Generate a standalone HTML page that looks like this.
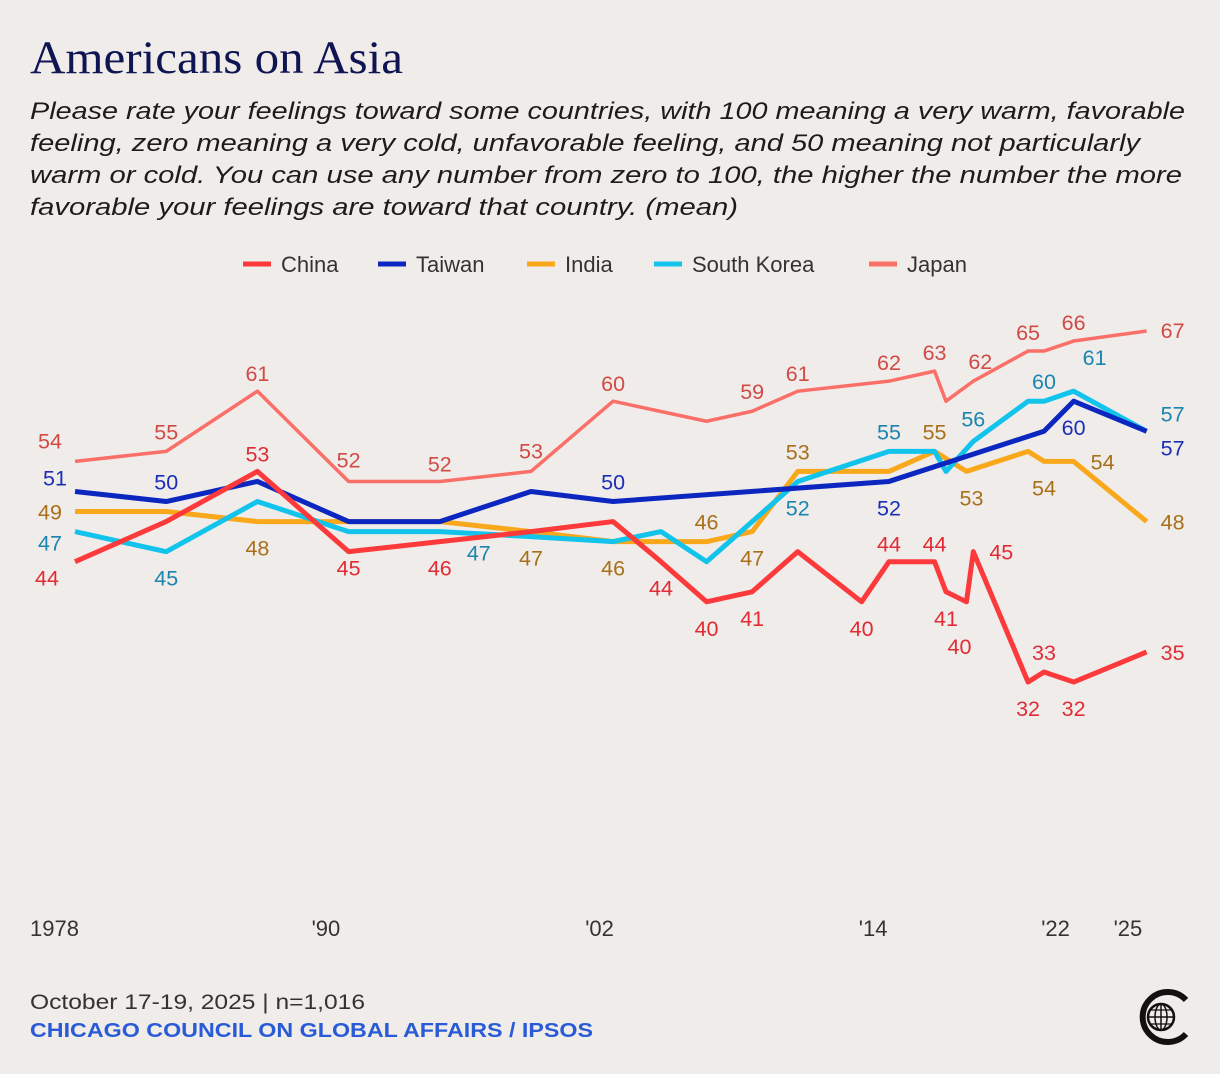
<!DOCTYPE html>
<html><head><meta charset="utf-8">
<style>
body{margin:0;background:#f0ecea;}
svg{display:block;font-family:"Liberation Sans",sans-serif;}
</style></head>
<body>
<svg id="chart" width="1220" height="1074" viewBox="0 0 1220 1074">
<rect width="1220" height="1074" fill="#f0ecea"/>
<text x="30" y="73" font-family="Liberation Serif,serif" font-size="47" fill="#0f1452" textLength="373" lengthAdjust="spacingAndGlyphs">Americans on Asia</text>
<g font-style="italic" font-size="24" fill="#1c1c1c">
<text x="30" y="119" textLength="1155" lengthAdjust="spacingAndGlyphs">Please rate your feelings toward some countries, with 100 meaning a very warm, favorable</text>
<text x="30" y="151" textLength="1110" lengthAdjust="spacingAndGlyphs">feeling, zero meaning a very cold, unfavorable feeling, and 50 meaning not particularly</text>
<text x="30" y="183" textLength="1152" lengthAdjust="spacingAndGlyphs">warm or cold.  You can use any number from zero to 100, the higher the number the more</text>
<text x="30" y="215" textLength="708" lengthAdjust="spacingAndGlyphs">favorable your feelings are toward that country. (mean)</text>
</g>
<g id="legend" font-size="22" fill="#333"></g>
<g id="axis" font-size="22" fill="#333"></g>
<g id="lines"></g>
<g id="labels" font-size="21.5" text-anchor="middle"></g>
<text x="30" y="1009" font-size="21" fill="#333" textLength="335" lengthAdjust="spacingAndGlyphs">October 17-19, 2025 | n=1,016</text>
<text x="30" y="1037" font-size="20" font-weight="bold" fill="#2a5bd7" textLength="563" lengthAdjust="spacingAndGlyphs">CHICAGO COUNCIL ON GLOBAL AFFAIRS / IPSOS</text>
<g>
<path d="M1186,1000 A25,25 0 1 0 1186,1034" fill="none" stroke="#111" stroke-width="6"/>
<circle cx="1161" cy="1017" r="13" fill="none" stroke="#111" stroke-width="2.5"/>
<ellipse cx="1161" cy="1017" rx="6" ry="13" fill="none" stroke="#111" stroke-width="1.5"/>
<line x1="1148" y1="1017" x2="1174" y2="1017" stroke="#111" stroke-width="1.5"/>
<line x1="1161" y1="1004" x2="1161" y2="1030" stroke="#111" stroke-width="1.5"/>
<line x1="1150" y1="1010" x2="1172" y2="1010" stroke="#111" stroke-width="1.2"/>
<line x1="1150" y1="1024" x2="1172" y2="1024" stroke="#111" stroke-width="1.2"/>
</g>
</svg>
<script>
const NS="http://www.w3.org/2000/svg";
const seriesNames=["China","Taiwan","India","South Korea","Japan"];
const chinaYears=[1978,1982,1986,1990,1994,1998,2001.6,2003.7,2005.7,2007.7,2009.7,2012.5,2013.7,2015.7,2016.2,2017.1,2017.4,2019.8,2020.5,2021.8,2025];
const chinaValues=[44,48,53,45,46,47,48,44,40,41,45,40,44,44,41,40,45,32,33,32,35];
const taiwanYears=[1978,1982,1986,1990,1994,1998,2001.6,2013.7,2020.5,2021.8,2025];
const taiwanValues=[51,50,52,48,48,51,50,52,57,60,57];
const indiaYears=[1978,1982,1986,1990,1994,1998,2001.6,2003.7,2005.7,2007.7,2009.7,2013.7,2015.7,2017.1,2019.8,2020.5,2021.8,2025];
const indiaValues=[49,49,48,48,48,47,46,46,46,47,53,53,55,53,55,54,54,48];
const koreaYears=[1978,1982,1986,1990,1994,1998,2001.6,2003.7,2005.7,2009.7,2013.7,2015.7,2016.2,2017.4,2019.8,2020.5,2021.8,2025];
const koreaValues=[47,45,50,47,47,46.5,46,47,44,52,55,55,53,56,60,60,61,57];
const japanYears=[1978,1982,1986,1990,1994,1998,2001.6,2005.7,2007.7,2009.7,2013.7,2015.7,2016.2,2017.4,2019.8,2020.5,2021.8,2025];
const japanValues=[54,55,61,52,52,53,60,58,59,61,62,63,60,62,65,65,66,67];
const xTickYears=[1978,1990,2002,2014,2022,2025];
const xTickLabels=["1978","'90","'02","'14","'22","'25"];
// label placements: [point index, dx, dy]
const chinaLabels=[[0,-28,24],[2,0,-10],[3,0,24],[4,0,34],[7,0,34],[8,0,34],[9,0,34],[11,0,34],[12,0,-10],[13,0,-10],[14,0,34],[15,-7,52],[16,28,8],[17,0,34],[18,0,-12],[19,0,34],[20,26,8]];
const taiwanLabels=[[0,-20,-6],[1,0,-12],[6,0,-12],[7,0,34],[9,0,34],[10,26,24]];
const indiaLabels=[[0,-25,8],[2,0,34],[5,0,34],[6,0,34],[8,0,-12],[9,0,34],[10,0,-12],[12,0,-12],[13,5,34],[15,0,34],[16,29,8],[17,26,8]];
const koreaLabels=[[0,-25,19],[1,0,34],[4,39,29],[9,0,34],[10,0,-12],[13,0,-15],[15,0,-12],[16,21,-26],[17,26,-10]];
const japanLabels=[[0,-25,-13],[1,0,-12],[2,0,-10],[3,0,-14],[4,0,-10],[5,0,-13],[6,0,-10],[8,0,-12],[9,0,-10],[10,0,-11],[11,0,-11],[13,7,-12],[14,0,-11],[16,0,-11],[17,26,7]];

const lineColors=["#fc3a3c","#0b27c0","#f9a81c","#12c3ec","#fa6f68"];
const labelColors=["#e22b34","#1a2fb5","#a8701a","#1a85b0","#d24a45"];
const allYears=[chinaYears,taiwanYears,indiaYears,koreaYears,japanYears];
const allValues=[chinaValues,taiwanValues,indiaValues,koreaValues,japanValues];
const allLabels=[chinaLabels,taiwanLabels,indiaLabels,koreaLabels,japanLabels];
const keys=["china","taiwan","india","south-korea","japan"];
function xs(y){return 75+(y-1978)*22.8;}
function ys(v){return 331+(67-v)*10.03;}

const axis=document.getElementById('axis');
xTickYears.forEach((yr,i)=>{
  const t=document.createElementNS(NS,'text');
  t.setAttribute('x',i==0?30:xs(yr)-(i==5?33:37));
  t.setAttribute('y',936);
  t.textContent=xTickLabels[i];
  
  
  axis.appendChild(t);
});

const legend=document.getElementById('legend');
const legX=[243,378,527,654,869];
seriesNames.forEach((n,i)=>{
  const g=document.createElementNS(NS,'g');
  
  
  const l=document.createElementNS(NS,'line');
  l.setAttribute('x1',legX[i]);l.setAttribute('x2',legX[i]+28);
  l.setAttribute('y1',264);l.setAttribute('y2',264);
  l.setAttribute('stroke',lineColors[i]);l.setAttribute('stroke-width',5);
  const t=document.createElementNS(NS,'text');
  t.setAttribute('x',legX[i]+38);t.setAttribute('y',272);
  t.textContent=n;
  g.appendChild(l);g.appendChild(t);legend.appendChild(g);
});

const lines=document.getElementById('lines');
const labels=document.getElementById('labels');
const order=[2,3,4,1,0];
order.forEach(s=>{
  const p=document.createElementNS(NS,'polyline');
  p.setAttribute('points',allYears[s].map((y,i)=>xs(y)+','+ys(allValues[s][i])).join(' '));
  p.setAttribute('fill','none');
  p.setAttribute('stroke',lineColors[s]);
  p.setAttribute('stroke-width',s==4?3.5:5);
  p.setAttribute('stroke-linejoin','round');
  
  
  lines.appendChild(p);
});
[0,1,2,3,4].forEach(s=>{
  allLabels[s].forEach(([i,dx,dy])=>{
    const t=document.createElementNS(NS,'text');
    t.setAttribute('x',xs(allYears[s][i])+dx);
    t.setAttribute('y',ys(allValues[s][i])+dy);
    t.setAttribute('fill',labelColors[s]);
    t.textContent=Math.round(allValues[s][i]);
    
    
    labels.appendChild(t);
  });
});
</script>
</body></html>
